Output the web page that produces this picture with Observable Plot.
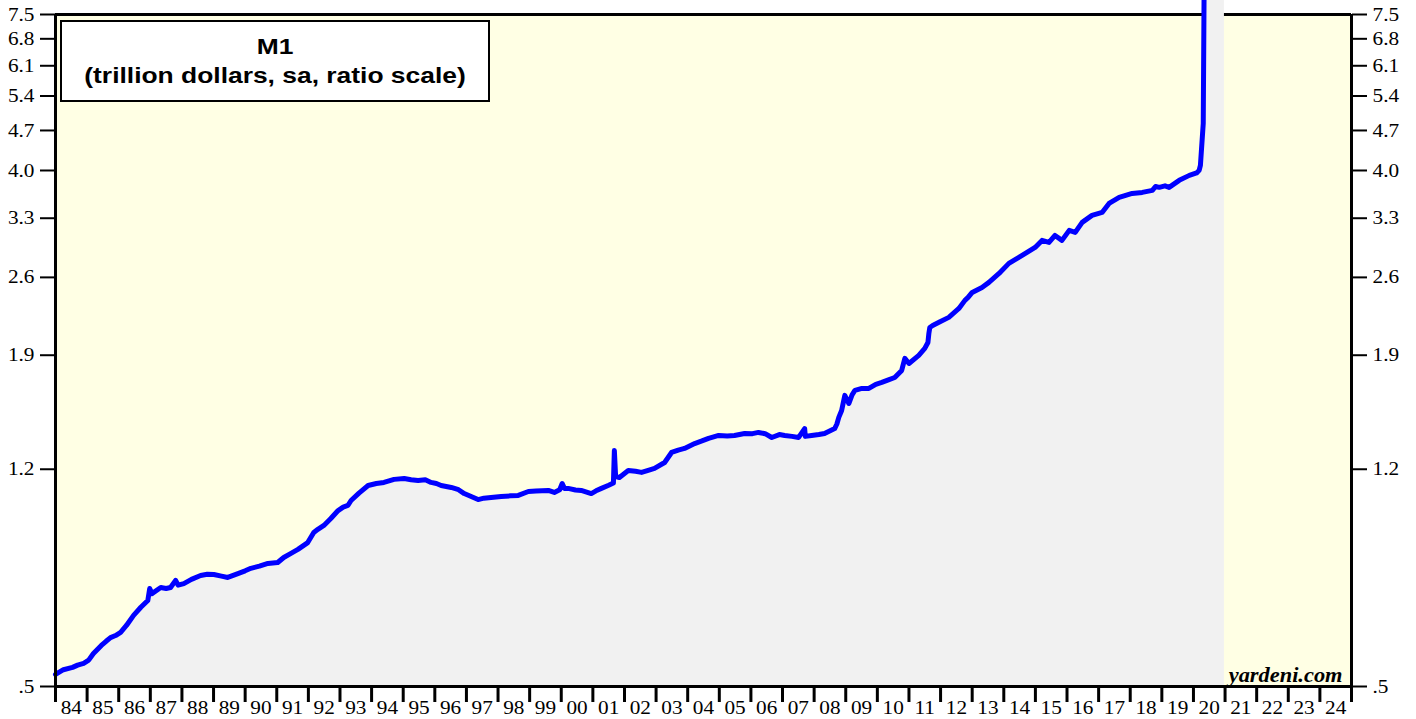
<!DOCTYPE html>
<html>
<head>
<meta charset="utf-8">
<script src="https://cdn.jsdelivr.net/npm/d3@7"></script>
<script src="https://cdn.jsdelivr.net/npm/@observablehq/plot@0.6"></script>
<style>
  html, body { margin: 0; padding: 0; background: #ffffff; }
  #wrap { position: relative; width: 1416px; height: 719px; overflow: hidden; }
  #legend {
    position: absolute; left: 60px; top: 20px; width: 430px; height: 82px;
    border: 2px solid #000; background: #ffffff; text-align: center;
    font: bold 22px "Liberation Sans", Arial, sans-serif; color: #000;
    line-height: 29px; padding-top: 10px; box-sizing: border-box;
  }
  #legend div { transform: scaleX(1.2); transform-origin: 50% 50%; white-space: nowrap; }
</style>
</head>
<body>
<div id="wrap">
  <div id="chart"></div>
  <div id="legend"><div>M1</div><div>(trillion dollars, sa, ratio scale)</div></div>
</div>
<script>
// ---- Data ----
// Decimal year of each reading
const m1Years = [
  1984.00, 1984.25, 1984.54, 1984.70, 1984.89, 1985.05, 1985.20, 1985.45, 1985.60, 1985.74,
  1985.90, 1986.06, 1986.25, 1986.47, 1986.70, 1986.92, 1986.98, 1987.05, 1987.33, 1987.50,
  1987.64, 1987.80, 1987.88, 1988.06, 1988.30, 1988.59, 1988.80, 1989.01, 1989.25, 1989.45,
  1989.77, 1990.00, 1990.18, 1990.45, 1990.72, 1991.03, 1991.22, 1991.45, 1991.67, 1991.98,
  1992.17, 1992.30, 1992.49, 1992.71, 1992.94, 1993.10, 1993.25, 1993.35, 1993.60, 1993.89,
  1994.15, 1994.39, 1994.71, 1995.03, 1995.25, 1995.47, 1995.70, 1995.88, 1996.05, 1996.20,
  1996.52, 1996.75, 1996.93, 1997.15, 1997.37, 1997.55, 1997.78, 1998.10, 1998.40, 1998.64,
  1998.96, 1999.20, 1999.59, 1999.78, 1999.95, 2000.03, 2000.10, 2000.22, 2000.45, 2000.63,
  2000.95, 2001.10, 2001.27, 2001.50, 2001.65, 2001.68, 2001.72, 2001.84, 2002.12, 2002.35,
  2002.54, 2002.75, 2002.95, 2003.27, 2003.49, 2003.70, 2003.90, 2004.22, 2004.45, 2004.66,
  2004.98, 2005.25, 2005.48, 2005.80, 2006.05, 2006.24, 2006.45, 2006.66, 2006.90, 2007.07,
  2007.30, 2007.51, 2007.70, 2007.72, 2007.92, 2008.15, 2008.33, 2008.65, 2008.72, 2008.78,
  2008.87, 2008.97, 2009.10, 2009.20, 2009.29, 2009.51, 2009.73, 2009.95, 2010.14, 2010.35,
  2010.55, 2010.77, 2010.87, 2011.00, 2011.31, 2011.50, 2011.60, 2011.63, 2011.66, 2011.75,
  2011.95, 2012.26, 2012.58, 2012.77, 2012.87, 2013.00, 2013.31, 2013.53, 2013.85, 2014.16,
  2014.58, 2014.99, 2015.21, 2015.43, 2015.62, 2015.84, 2016.07, 2016.26, 2016.48, 2016.79,
  2017.11, 2017.33, 2017.65, 2018.06, 2018.38, 2018.70, 2018.80, 2018.92, 2019.10, 2019.23,
  2019.55, 2019.87, 2020.10, 2020.18, 2020.22, 2020.31, 2020.37, 2020.50, 2020.75, 2020.98
];
// M1, trillion dollars
const m1Values = [
  0.525, 0.535, 0.540, 0.545, 0.549, 0.556, 0.571, 0.590, 0.600, 0.609,
  0.614, 0.622, 0.640, 0.666, 0.688, 0.707, 0.742, 0.727, 0.745, 0.742,
  0.745, 0.767, 0.752, 0.757, 0.770, 0.782, 0.786, 0.785, 0.780, 0.776,
  0.788, 0.797, 0.805, 0.812, 0.821, 0.824, 0.841, 0.855, 0.869, 0.893,
  0.930, 0.942, 0.957, 0.984, 1.016, 1.030, 1.037, 1.058, 1.090, 1.124,
  1.133, 1.138, 1.152, 1.156, 1.150, 1.147, 1.150, 1.138, 1.133, 1.124,
  1.115, 1.105, 1.088, 1.075, 1.062, 1.068, 1.071, 1.075, 1.078, 1.080,
  1.097, 1.099, 1.102, 1.093, 1.105, 1.133, 1.111, 1.111, 1.104, 1.102,
  1.088, 1.100, 1.111, 1.125, 1.135, 1.294, 1.165, 1.161, 1.194, 1.190,
  1.185, 1.195, 1.204, 1.233, 1.284, 1.296, 1.305, 1.331, 1.345, 1.359,
  1.375, 1.372, 1.375, 1.386, 1.385, 1.392, 1.385, 1.364, 1.380, 1.375,
  1.370, 1.364, 1.414, 1.370, 1.375, 1.380, 1.386, 1.414, 1.440, 1.479,
  1.521, 1.616, 1.564, 1.620, 1.649, 1.662, 1.662, 1.690, 1.703, 1.720,
  1.737, 1.787, 1.876, 1.838, 1.899, 1.953, 2.000, 2.075, 2.125, 2.142,
  2.169, 2.213, 2.294, 2.370, 2.398, 2.447, 2.497, 2.548, 2.642, 2.751,
  2.841, 2.934, 3.018, 2.993, 3.079, 3.018, 3.142, 3.117, 3.245, 3.338,
  3.378, 3.503, 3.589, 3.647, 3.662, 3.692, 3.750, 3.737, 3.760, 3.737,
  3.844, 3.922, 3.960, 4.002, 4.083, 4.836, 16.0, 16.9, 17.6, 18.0
];
const yTicks = [0.5, 1.2, 1.9, 2.6, 3.3, 4.0, 4.7, 5.4, 6.1, 6.8, 7.5];
const yTickLabels = [".5", "1.2", "1.9", "2.6", "3.3", "4.0", "4.7", "5.4", "6.1", "6.8", "7.5"];
const xLabelYears = [1984, 1985, 1986, 1987, 1988, 1989, 1990, 1991, 1992, 1993, 1994, 1995, 1996, 1997,
  1998, 1999, 2000, 2001, 2002, 2003, 2004, 2005, 2006, 2007, 2008, 2009, 2010, 2011, 2012, 2013,
  2014, 2015, 2016, 2017, 2018, 2019, 2020, 2021, 2022, 2023, 2024];
const xLabels = ["84", "85", "86", "87", "88", "89", "90", "91", "92", "93", "94", "95", "96", "97",
  "98", "99", "00", "01", "02", "03", "04", "05", "06", "07", "08", "09", "10", "11", "12", "13",
  "14", "15", "16", "17", "18", "19", "20", "21", "22", "23", "24"];
const xDomain = [1984, 2025];
const yDomain = [0.5, 7.5];

const data = m1Years.map((t, i) => ({t, v: m1Values[i]}));
const xTickYears = xLabelYears.concat([xDomain[1]]);
const serif = "'Liberation Serif', 'Times New Roman', serif";

const chart = Plot.plot({
  width: 1416,
  height: 719,
  marginLeft: 55,
  marginRight: 65,
  marginTop: 14,
  marginBottom: 33,
  style: {background: "transparent", overflow: "hidden", color: "#000"},
  x: {domain: xDomain, axis: null, label: null},
  y: {type: "log", domain: yDomain, axis: null, label: null},
  marks: [
    Plot.frame({fill: "#FFFFE4"}),
    Plot.ruleY([yDomain[1]], {stroke: "#000", strokeWidth: 3}),
    Plot.areaY(data, {x: "t", y1: yDomain[0], y2: "v", fill: "#F1F1F1"}),
    Plot.line(data, {x: "t", y: "v", stroke: "#0000FF", strokeWidth: 5, strokeLinejoin: "round", strokeLinecap: "round"}),
    Plot.dot([data[0]], {x: "t", y: "v", r: 1.5, fill: "#FF0000"}),
    Plot.ruleY([yDomain[0]], {stroke: "#000", strokeWidth: 3}),
    Plot.ruleX(xDomain, {stroke: "#000", strokeWidth: 3}),
    Plot.axisX(xTickYears, {anchor: "bottom", tickSize: 16, strokeWidth: 3, tickFormat: () => "", label: null}),
    Plot.text(xLabelYears, {x: d => d + 0.5, text: (d, i) => xLabels[i], frameAnchor: "bottom", lineAnchor: "middle",
      dy: 21, fontSize: 19, fontFamily: serif, fill: "#000"}),
    Plot.axisY(yTicks, {anchor: "left", tickSize: 15, tickPadding: 6, strokeWidth: 2, label: null,
      tickFormat: d => yTickLabels[yTicks.indexOf(d)], fontSize: 19, fontFamily: serif}),
    Plot.axisY(yTicks, {anchor: "right", tickSize: 15, tickPadding: 6, strokeWidth: 2, label: null,
      tickFormat: d => yTickLabels[yTicks.indexOf(d)], fontSize: 19, fontFamily: serif}),
    Plot.text(["yardeni.com"], {text: d => d, frameAnchor: "bottom-right", lineAnchor: "bottom", dx: -9, dy: -5,
      fontSize: 20, fontWeight: "bold", fontStyle: "italic", fontFamily: serif, fill: "#000"})
  ]
});

// the original lettering is slightly wider than the installed fonts: stretch each text about its anchor
d3.select(chart).selectAll("text").each(function() {
  const tr = this.getAttribute("transform") || "";
  const xa = this.getAttribute("x");
  let pre = "";
  if (xa != null && isFinite(+xa) && +xa !== 0) {
    pre = ` translate(${+xa},0)`;
    this.removeAttribute("x");
  }
  this.setAttribute("transform", `${tr}${pre} scale(1.12,1)`.trim());
});

document.getElementById("chart").appendChild(chart);
</script>
</body>
</html>
